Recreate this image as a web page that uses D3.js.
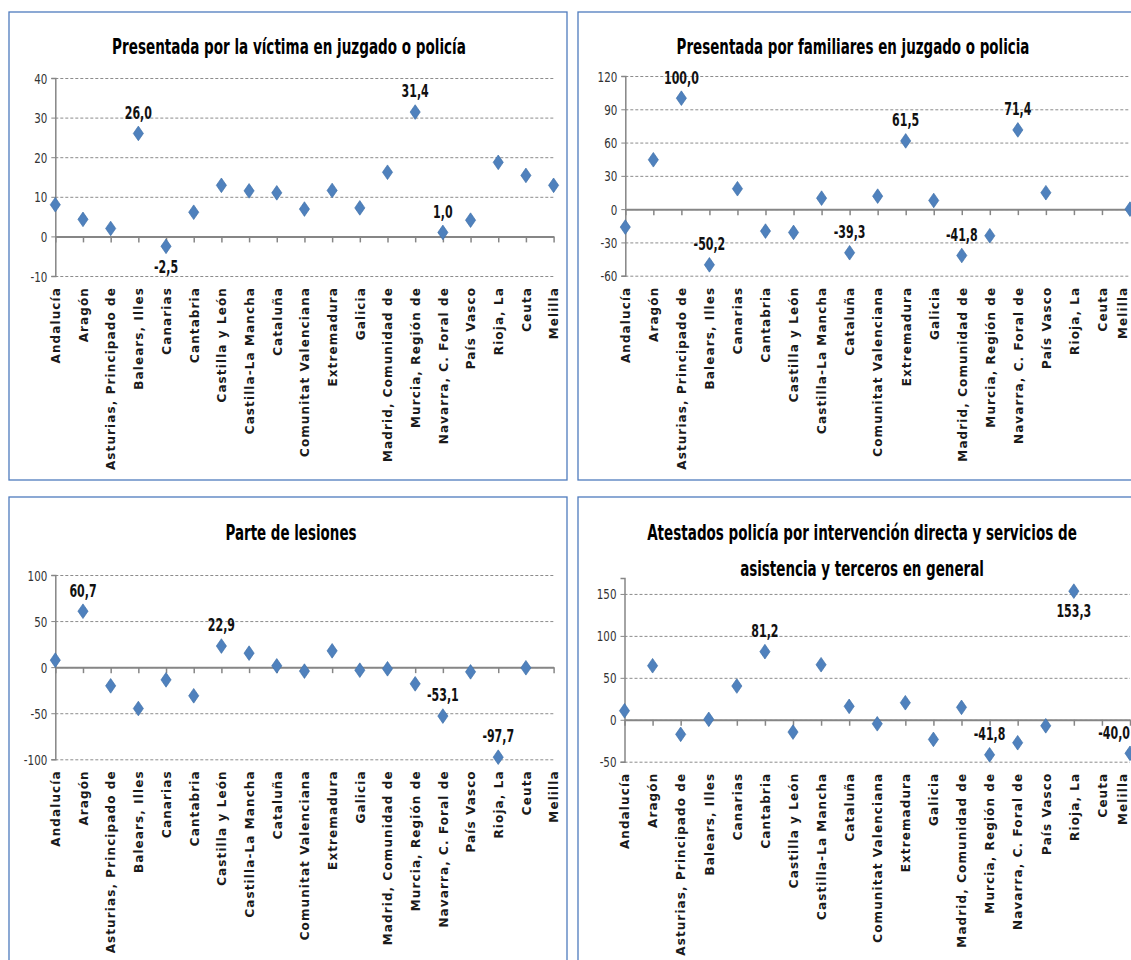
<!DOCTYPE html>
<html>
<head>
<meta charset="utf-8">
<script src="https://cdn.jsdelivr.net/npm/d3@7"></script>
<style>
  body { margin: 0; background: #fff; }
</style>
</head>
<body>
<script>
// comunidades autónomas, same order in all four charts
const categories = ["Andalucía", "Aragón", "Asturias, Principado de", "Balears, Illes", "Canarias",
  "Cantabria", "Castilla y León", "Castilla-La Mancha", "Cataluña", "Comunitat Valenciana",
  "Extremadura", "Galicia", "Madrid, Comunidad de", "Murcia, Región de", "Navarra, C. Foral de",
  "País Vasco", "Rioja, La", "Ceuta", "Melilla"];

const victima    = [8.0, 4.3, 2.0, 26.0, -2.5, 6.1, 12.9, 11.5, 11.0, 6.9, 11.6, 7.2, 16.2, 31.4, 1.0, 4.1, 18.7, 15.4, 12.9];
const familiares = [-16.2, 44.5, 100.0, -50.2, 18.4, -19.8, -21.0, 9.9, -39.3, 11.7, 61.5, 7.8, -41.8, -24.0, 71.4, 14.8, null, null, 0.0];
const lesiones   = [7.6, 60.7, -20.3, -44.9, -13.8, -31.1, 22.9, 15.2, 1.4, -4.3, 17.7, -3.3, -1.8, -18.1, -53.1, -5.1, -97.7, -0.7, null];
const atestados  = [10.7, 64.4, -17.4, 0.5, 40.2, 81.2, -14.7, 65.6, 16.0, -4.8, 20.3, -23.4, 14.8, -41.8, -27.4, -7.2, 153.3, null, -40.0];

const ticksVictima    = [-10, 0, 10, 20, 30, 40];
const ticksFamiliares = [-60, -30, 0, 30, 60, 90, 120];
const ticksLesiones   = [-100, -50, 0, 50, 100];
const ticksAtestados  = [-50, 0, 50, 100, 150];

// which points carry a data label, and which of those sit under the marker
const labVictima = [3, 4, 13, 14], belowVictima = [4];
const labFamiliares = [2, 3, 8, 10, 12, 14], belowFamiliares = [];
const labLesiones = [1, 6, 14, 16], belowLesiones = [];
const labAtestados = [5, 13, 16, 18], belowAtestados = [16];

const W = 1131, H = 960;
const blue = "#4F81BD";
const narrow = "'Liberation Sans Narrow', 'DejaVu Sans Condensed', sans-serif";

const svg = d3.select("body").append("svg")
    .attr("width", W)
    .attr("height", H);

const fmt = v => d3.format(".1f")(v).replace("−", "-").replace(".", ",");

// squeeze a text horizontally around its anchor point (the reference font is a narrow one)
function squeeze(sel, f, maxRight) {
  sel.each(function() {
    const t = d3.select(this);
    let x = +t.attr("x") || 0;
    const y = +t.attr("y") || 0;
    if (maxRight != null) {
      const half = this.getComputedTextLength() * f / 2;
      x = Math.min(x, maxRight - half);
    }
    t.attr("x", 0).attr("y", 0)
      .attr("transform", `translate(${x},${y}) scale(${f},1)`);
  });
}

function panel(cfg) {
  // outer frame
  svg.append("rect")
      .attr("x", cfg.box[0]).attr("y", cfg.box[1])
      .attr("width", cfg.box[2]).attr("height", cfg.box[3])
      .attr("fill", "#fff")
      .attr("stroke", "#4f7bbd")
      .attr("stroke-width", 1.3);

  const x = d3.scalePoint(categories, cfg.xr);
  const y = d3.scaleLinear(cfg.domain, cfg.yr);

  // title
  cfg.title.forEach((t, i) => {
    const txt = svg.append("text")
        .attr("x", cfg.titleX)
        .attr("y", cfg.titleY + i * 36)
        .attr("text-anchor", "middle")
        .attr("dominant-baseline", "central")
        .attr("font-family", narrow)
        .attr("font-weight", "bold")
        .attr("font-size", 21)
        .attr("fill", "#000")
        .text(t);
    const w = txt.node().getComputedTextLength();
    squeeze(txt, cfg.titleW[i] / w);
  });

  // dashed gridlines
  svg.append("g")
      .attr("transform", `translate(${cfg.xr[0]},0)`)
      .call(d3.axisLeft(y).tickValues(cfg.ticks).tickSize(-(cfg.xr[1] - cfg.xr[0])).tickFormat(""))
      .call(g => g.select(".domain").remove())
      .call(g => g.selectAll("line")
          .attr("stroke", "#8c8c8c")
          .attr("stroke-dasharray", "3,2"));

  // y axis
  svg.append("g")
      .attr("transform", `translate(${cfg.xr[0]},0)`)
      .call(d3.axisLeft(y).tickValues(cfg.ticks).tickSize(4).tickPadding(4).tickFormat(d => String(d)))
      .call(g => g.select(".domain").attr("stroke", "#868686").attr("stroke-width", 1.5))
      .call(g => g.selectAll("line").attr("stroke", "#868686"))
      .call(g => g.selectAll("text")
          .attr("font-family", narrow)
          .attr("font-size", 14)
          .attr("fill", "#333")
          .attr("dy", "0.36em")
          .call(s => squeeze(s, 0.82)));

  // category axis through zero
  svg.append("g")
      .attr("transform", `translate(0,${y(0)})`)
      .call(d3.axisBottom(x).tickSize(6).tickSizeOuter(0).tickFormat(""))
      .call(g => g.select(".domain").attr("stroke", "#868686").attr("stroke-width", 2))
      .call(g => g.selectAll("line").attr("stroke", "#868686").attr("stroke-width", 1.5));

  // category names under the plot (kept inside the page at the right edge)
  svg.append("g")
      .attr("transform", `translate(0,${cfg.yr[0]})`)
      .call(d3.axisBottom(x).tickSize(0))
      .call(g => g.select(".domain").remove())
      .call(g => g.selectAll("text")
          .attr("transform", "rotate(-90)")
          .attr("text-anchor", "end")
          .attr("x", -11)
          .attr("y", d => Math.min(0, W - 9 - x(d)))
          .attr("dy", "0.36em")
          .attr("font-family", "'DejaVu Sans', Verdana, sans-serif")
          .attr("font-weight", "bold")
          .attr("font-size", 12)
          .attr("letter-spacing", 1.1)
          .attr("fill", "#1a1a1a"));

  const pts = cfg.values.map((v, i) => ({ c: categories[i], v, i })).filter(d => d.v != null);

  svg.append("g")
    .selectAll("path")
    .data(pts)
    .join("path")
      .attr("transform", d => `translate(${x(d.c)},${y(d.v)}) scale(1.2,1)`)
      .attr("d", d3.symbol(d3.symbolDiamond, 62))
      .attr("fill", blue)
      .attr("stroke", "#3f6fa8")
      .attr("stroke-width", 0.6);

  svg.append("g")
    .selectAll("text")
    .data(pts.filter(d => cfg.labels.includes(d.i)))
    .join("text")
      .attr("x", d => x(d.c))
      .attr("y", d => y(d.v) + (cfg.below.includes(d.i) ? 20 : -21))
      .attr("text-anchor", "middle")
      .attr("dominant-baseline", "central")
      .attr("font-family", narrow)
      .attr("font-weight", "bold")
      .attr("font-size", 17)
      .attr("fill", "#111")
      .text(d => fmt(d.v))
      .call(s => squeeze(s, 0.72, W - 1));
}

panel({
  box: [9, 12, 558, 468],
  xr: [55.3, 553.6], yr: [276, 78], domain: [-10, 40], ticks: ticksVictima,
  values: victima, labels: labVictima, below: belowVictima,
  title: ["Presentada por la víctima en juzgado o policía"], titleW: [354], titleX: 289, titleY: 47
});

panel({
  box: [578, 12, 580, 468],
  xr: [625.3, 1130], yr: [275.7, 76], domain: [-60, 120], ticks: ticksFamiliares,
  values: familiares, labels: labFamiliares, below: belowFamiliares,
  title: ["Presentada por familiares en juzgado o policia"], titleW: [353], titleX: 853, titleY: 47
});

panel({
  box: [9, 497, 558, 480],
  xr: [55.3, 553.6], yr: [759.3, 575], domain: [-100, 100], ticks: ticksLesiones,
  values: lesiones, labels: labLesiones, below: belowLesiones,
  title: ["Parte de lesiones"], titleW: [131], titleX: 291, titleY: 533
});

panel({
  box: [578, 497, 580, 480],
  xr: [624.5, 1130], yr: [761.7, 578], domain: [-50, 169], ticks: ticksAtestados,
  values: atestados, labels: labAtestados, below: belowAtestados,
  title: ["Atestados policía por intervención directa y servicios de", "asistencia y terceros en general"],
  titleW: [430, 244], titleX: 862, titleY: 533
});
</script>
</body>
</html>
